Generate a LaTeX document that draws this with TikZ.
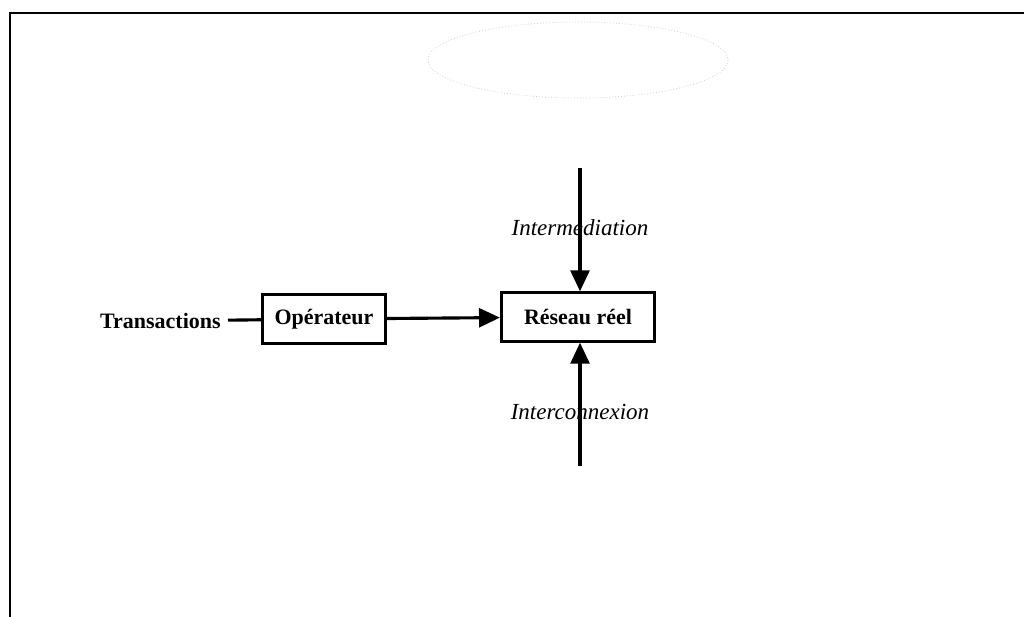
\documentclass[tikz,border=0pt]{standalone}
\usepackage{fontspec}
\setmainfont{Liberation Serif}
\usetikzlibrary{arrows.meta, positioning}

\tikzset{
  bloc/.style={draw, line width=1.5pt, font=\fontsize{10.5}{12.5}\selectfont\bfseries, minimum height=0.81cm, inner sep=2pt},
  fleche/.style={line width=1.5pt, -{Triangle[length=10pt, width=9pt]}},
  lien/.style={font=\fontsize{11}{13}\selectfont\itshape, inner sep=1pt},
  cadre/.style={line width=1.3pt}
}

\begin{document}
\begin{tikzpicture}[x=0.0168cm, y=-0.0168cm]
    \useasboundingbox (0,0) rectangle (1024,617);

    % cadre de la page
    \draw[cadre] (1024,13) -- (10,13) -- (10,617);

    % ellipse du haut, presque effacee
    \draw[gray!35, densely dotted] (578,60) ellipse [x radius=150, y radius=38];

    \node[bloc, minimum width=2.07cm] (operateur) at (324,319) {Opérateur};
    \node[bloc, minimum width=2.57cm] (reseau) at (578,317) {Réseau réel};
    \node[font=\fontsize{10.5}{12.5}\selectfont\bfseries, anchor=east] (transactions) at (228,321) {Transactions};

    \coordinate (haut) at (580,168);
    \coordinate (bas) at (580,466);
    \node[lien] (intermediation) at (580,228) {Intermediation};
    \node[lien] (interconnexion) at (580,412) {Interconnexion};

    \draw[fleche, -] (transactions) -- (operateur);
    \draw[fleche] (operateur) -- (reseau);
    \draw[fleche] (haut) -- (haut |- reseau.north);
    \draw[fleche] (bas) -- (bas |- reseau.south);

\end{tikzpicture}
\end{document}
